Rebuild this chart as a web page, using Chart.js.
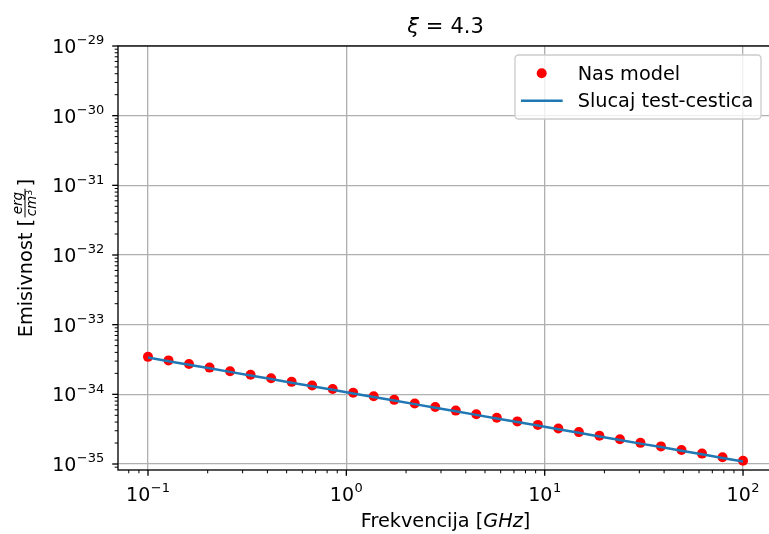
<!DOCTYPE html>
<html>
<head>
<meta charset="utf-8">
<script src="https://cdn.jsdelivr.net/npm/chart.js@4.4.0/dist/chart.umd.min.js"></script>
<style>
html, body { margin: 0; padding: 0; overflow: hidden; background: #fff; }
canvas { display: block; }
</style>
</head>
<body>
<canvas id="emisChart" width="775" height="534"></canvas>
<script>
// frequencies in GHz (30 log-spaced points, 0.1 .. 100)
const frequencies = [0.1, 0.1269, 0.161, 0.2043, 0.2593, 0.329, 0.4175, 0.5298, 0.6723, 0.8532,
    1.0826, 1.3738, 1.7433, 2.2122, 2.8072, 3.5622, 4.5204, 5.7362, 7.279, 9.2367,
    11.721, 14.874, 18.874, 23.95, 30.392, 38.566, 48.939, 62.102, 78.805, 100];

// emissivity, our model (red dots)
const nasModel = [3.45e-34, 3.07e-34, 2.72e-34, 2.42e-34, 2.15e-34, 1.91e-34, 1.70e-34, 1.51e-34, 1.34e-34, 1.19e-34,
    1.055e-34, 9.37e-35, 8.33e-35, 7.40e-35, 6.57e-35, 5.84e-35, 5.19e-35, 4.61e-35, 4.09e-35, 3.64e-35,
    3.23e-35, 2.87e-35, 2.55e-35, 2.26e-35, 2.01e-35, 1.79e-35, 1.59e-35, 1.41e-35, 1.25e-35, 1.11e-35];

// emissivity, test particle case (blue line)
const testCestica = [3.37e-34, 2.99e-34, 2.66e-34, 2.36e-34, 2.10e-34, 1.864e-34, 1.656e-34, 1.471e-34, 1.307e-34, 1.161e-34,
    1.031e-34, 9.16e-35, 8.14e-35, 7.23e-35, 6.42e-35, 5.71e-35, 5.07e-35, 4.50e-35, 4.00e-35, 3.56e-35,
    3.16e-35, 2.80e-35, 2.49e-35, 2.21e-35, 1.96e-35, 1.75e-35, 1.55e-35, 1.38e-35, 1.22e-35, 1.085e-35];

// tick labels are 10^exp
const xTickExps = [-1, 0, 1, 2];
const yTickExps = [-35, -34, -33, -32, -31, -30, -29];

const FONT = '"DejaVu Sans", Verdana, sans-serif';
const BASE = 19.3;
const SUP = 13;

function expText(e) {
    return e < 0 ? '\u2212' + Math.abs(e) : String(e);
}

// "10" with a raised exponent; align = 'center' or 'right'
function drawPower(c, e, x, y, align) {
    c.font = '19px ' + FONT;
    const w1 = c.measureText('10').width;
    c.font = SUP + 'px ' + FONT;
    const w2 = c.measureText(expText(e)).width;
    const total = w1 + w2 + 0.5;
    let left = align === 'center' ? x - total / 2 : x - total;
    c.textAlign = 'left';
    c.textBaseline = 'alphabetic';
    c.font = '19px ' + FONT;
    c.fillText('10', left, y);
    c.font = SUP + 'px ' + FONT;
    c.fillText(expText(e), left + w1 + 0.5, y - 8.8);
}

// draw a list of [text, font] pieces starting at x
function drawPieces(c, pieces, x, y) {
    pieces.forEach(p => {
        c.font = p[1];
        c.fillText(p[0], x, y);
        x += c.measureText(p[0]).width;
    });
}

function piecesWidth(c, pieces) {
    let w = 0;
    pieces.forEach(p => { c.font = p[1]; w += c.measureText(p[0]).width; });
    return w;
}

function logTicks(min, max) {
    const out = [];
    for (let e = Math.floor(Math.log10(min)) - 1; e <= Math.ceil(Math.log10(max)); e++) {
        for (let m = 1; m <= 9; m++) {
            const v = m * Math.pow(10, e);
            if (v >= min * 0.9999 && v <= max * 1.0001) out.push({ v: v, major: m === 1 });
        }
    }
    return out;
}

const decorPlugin = {
    id: 'decor',
    beforeDraw(chart) {
        const c = chart.ctx;
        c.save();
        c.fillStyle = '#ffffff';
        c.fillRect(0, 0, chart.width, chart.height);
        c.restore();
    },
    afterDraw(chart) {
        const c = chart.ctx;
        const a = chart.chartArea;
        const xs = chart.scales.x;
        const ys = chart.scales.y;
        c.save();

        // spines
        c.strokeStyle = '#000';
        c.lineWidth = 1.33;
        c.strokeRect(a.left, a.top, a.right - a.left, a.bottom - a.top);

        // tick marks
        logTicks(xs.min, xs.max).forEach(t => {
            const px = xs.getPixelForValue(t.v);
            c.lineWidth = t.major ? 1.33 : 1;
            c.beginPath();
            c.moveTo(px, a.bottom);
            c.lineTo(px, a.bottom + (t.major ? 5.8 : 3.3));
            c.stroke();
        });
        logTicks(ys.min, ys.max).forEach(t => {
            const py = ys.getPixelForValue(t.v);
            c.lineWidth = t.major ? 1.33 : 1;
            c.beginPath();
            c.moveTo(a.left, py);
            c.lineTo(a.left - (t.major ? 5.8 : 3.3), py);
            c.stroke();
        });

        // tick labels
        c.fillStyle = '#000';
        xTickExps.forEach(e => {
            drawPower(c, e, xs.getPixelForValue(Math.pow(10, e)), a.bottom + 31, 'center');
        });
        yTickExps.forEach(e => {
            drawPower(c, e, a.left - 13.7, ys.getPixelForValue(Math.pow(10, e)) + 7, 'right');
        });

        // title: xi = 4.3, math-style spacing round "="
        const cx = (a.left + a.right) / 2;
        const TF = 21;
        c.textAlign = 'left';
        c.textBaseline = 'alphabetic';
        c.font = 'italic ' + TF + 'px ' + FONT;
        const wXi = c.measureText('\u03be').width;
        c.font = TF + 'px ' + FONT;
        const wEq = c.measureText('=').width;
        const wNum = c.measureText('4.3').width;
        const gap = 7;
        let tx = cx - (wXi + wEq + wNum + 2 * gap) / 2;
        c.font = 'italic ' + TF + 'px ' + FONT;
        c.fillText('\u03be', tx, 33);
        tx += wXi + gap;
        c.font = TF + 'px ' + FONT;
        c.fillText('=', tx, 33);
        tx += wEq + gap;
        c.fillText('4.3', tx, 33);

        // x axis title
        const xPieces = [['Frekvencija [', BASE + 'px ' + FONT], ['GHz', 'italic ' + BASE + 'px ' + FONT], [']', BASE + 'px ' + FONT]];
        drawPieces(c, xPieces, cx - piecesWidth(c, xPieces) / 2, 527);

        // y axis title, rotated
        c.save();
        c.translate(32, (a.top + a.bottom) / 2);
        c.rotate(-Math.PI / 2);
        const fb = BASE + 'px ' + FONT;
        const fi = 'italic 13.5px ' + FONT;
        const f3 = '9.5px ' + FONT;
        c.font = fb;
        const wHead = c.measureText('Emisivnost [').width;
        const wClose = c.measureText(']').width;
        c.font = fi;
        const wErg = c.measureText('erg').width;
        const wCm = c.measureText('cm').width;
        c.font = f3;
        const w3 = c.measureText('3').width;
        const wFrac = Math.max(wErg, wCm + w3) + 3;
        const total = wHead + 1 + wFrac + 2 + wClose;
        let lx = -total / 2;
        c.font = fb;
        c.fillText('Emisivnost [', lx, 0);
        lx += wHead + 1;
        c.font = fi;
        c.fillText('erg', lx + (wFrac - wErg) / 2, -10);
        c.fillText('cm', lx + (wFrac - wCm - w3) / 2, 3.5);
        c.font = f3;
        c.fillText('3', lx + (wFrac - wCm - w3) / 2 + wCm, -0.5);
        c.lineWidth = 1;
        c.beginPath();
        c.moveTo(lx + 0.5, -7);
        c.lineTo(lx + wFrac - 0.5, -7);
        c.stroke();
        lx += wFrac + 2;
        c.font = fb;
        c.fillText(']', lx, 0);
        c.restore();

        // legend
        const lx0 = 515, ly0 = 55, lw = 246, lh = 64;
        c.beginPath();
        c.roundRect(lx0, ly0, lw, lh, 3.5);
        c.fillStyle = 'rgba(255,255,255,0.8)';
        c.fill();
        c.strokeStyle = '#cccccc';
        c.lineWidth = 1.33;
        c.stroke();
        const dsDots = chart.data.datasets[1];
        const dsLine = chart.data.datasets[0];
        c.fillStyle = dsDots.backgroundColor;
        c.beginPath();
        c.arc(541.7, 73.3, 5, 0, Math.PI * 2);
        c.fill();
        c.strokeStyle = dsLine.borderColor;
        c.lineWidth = 2.5;
        c.beginPath();
        c.moveTo(521, 100.7);
        c.lineTo(562.7, 100.7);
        c.stroke();
        c.fillStyle = '#000';
        c.font = BASE + 'px ' + FONT;
        c.fillText(dsDots.label, 577.7, 79.5);
        c.fillText(dsLine.label, 577.7, 107);

        c.restore();
    }
};

const ctx = document.getElementById('emisChart').getContext('2d');
const decadeGrid = (axis) => {
    axis.ticks = axis.ticks.filter(t => Math.abs(Math.log10(t.value) - Math.round(Math.log10(t.value))) < 1e-6);
};

const emisChart = new Chart(ctx, {
    type: 'scatter',
    data: {
        datasets: [{
            type: 'line',
            label: 'Slucaj test-cestica',
            data: frequencies.map((f, i) => ({ x: f, y: testCestica[i] })),
            borderColor: '#1f77b4',
            borderWidth: 2.5,
            pointRadius: 0,
            fill: false,
            tension: 0,
            order: 0
        }, {
            label: 'Nas model',
            data: frequencies.map((f, i) => ({ x: f, y: nasModel[i] })),
            backgroundColor: '#ff0000',
            borderWidth: 0,
            pointRadius: 5,
            pointHoverRadius: 5,
            order: 1
        }]
    },
    options: {
        responsive: false,
        animation: false,
        devicePixelRatio: 1,
        layout: { autoPadding: false, padding: { top: 46, right: 2, bottom: 0, left: 0 } },
        plugins: {
            legend: { display: false },
            tooltip: { enabled: false },
            title: { display: false }
        },
        scales: {
            x: {
                type: 'logarithmic',
                min: 0.0706,
                max: 141.6,
                afterBuildTicks: decadeGrid,
                afterFit: (s) => { s.height = 64; },
                ticks: { display: false },
                grid: { color: '#b0b0b0', lineWidth: 1.33, drawTicks: false },
                border: { display: false }
            },
            y: {
                type: 'logarithmic',
                min: 8.2e-36,
                max: 1e-29,
                afterBuildTicks: decadeGrid,
                afterFit: (s) => { s.width = 118; },
                ticks: { display: false },
                grid: { color: '#b0b0b0', lineWidth: 1.33, drawTicks: false },
                border: { display: false }
            }
        }
    },
    plugins: [decorPlugin]
});
</script>
</body>
</html>
